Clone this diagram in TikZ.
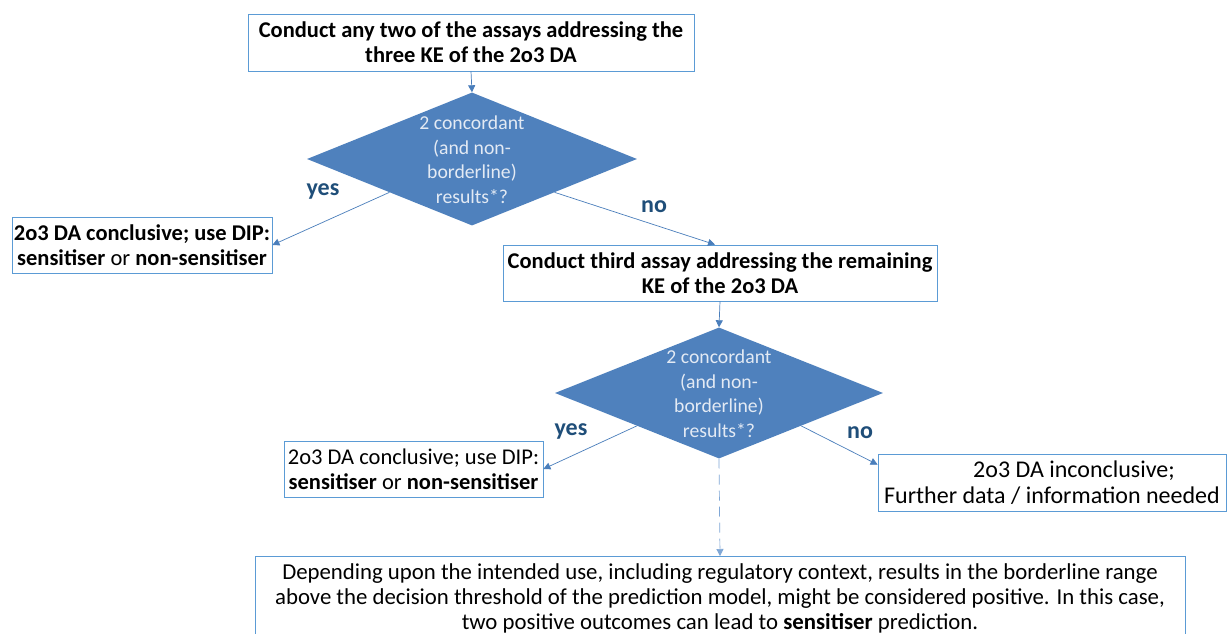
\documentclass[tikz,border=0pt]{standalone}
\usepackage{fontspec}
\setmainfont{Carlito}
\usetikzlibrary{shapes.geometric,arrows.meta}
\definecolor{boxline}{HTML}{5B9BD5}
\definecolor{decfill}{HTML}{4F81BD}
\definecolor{arrowc}{HTML}{4A7EBB}
\definecolor{dectext}{HTML}{E3EAF4}
\definecolor{lblc}{HTML}{1F4E79}
\definecolor{dashc}{HTML}{7FA7D6}
\tikzset{
  box/.style={draw=boxline, line width=0.8pt, fill=white, align=center, inner sep=0pt,
    font=\fontsize{22.5}{25}\selectfont},
  dec/.style={diamond, fill=decfill, draw=none, inner sep=0pt, text=dectext,
    font=\fontsize{19.7}{24.5}\selectfont},
  conn/.style={draw=arrowc, line width=0.7pt, -{Triangle[length=7pt,width=7pt]}},
  lbl/.style={text=lblc, font=\fontsize{24}{25}\selectfont\bfseries, inner sep=0pt},
}
\newcommand{\dtext}{\smash{\makebox[0pt]{\raisebox{-8pt}{\begin{tabular}{@{}c@{}}2 concordant\\(and non-\\borderline)\\results*?\end{tabular}}}}}
\begin{document}
\begin{tikzpicture}[x=1pt,y=-1pt]
\clip (0,0) rectangle (1227,634);
\fill[white] (0,0) rectangle (1227,634);
\node[box, minimum width=446pt, minimum height=57pt] (b1) at (471,42.5)
  {\bfseries Conduct any two of the assays addressing the\\\bfseries three KE of the 2o3 DA};
\node[dec, minimum width=330pt, minimum height=133pt] (d1) at (472,159) {\dtext};
\node[box, minimum width=260pt, minimum height=56pt] (b2) at (142,245)
  {\bfseries 2o3 DA conclusive; use DIP:\\\bfseries sensitiser \mdseries or \bfseries non-sensitiser};
\node[box, minimum width=434pt, minimum height=56pt] (b3) at (720,273)
  {\bfseries Conduct third assay addressing the remaining\\\bfseries KE of the 2o3 DA};
\node[dec, minimum width=328pt, minimum height=131pt] (d2) at (719,393) {\dtext};
\node[box, minimum width=259pt, minimum height=56pt] (b4) at (413.5,469)
  {2o3 DA conclusive; use DIP:\\\bfseries sensitiser \mdseries or \bfseries non-sensitiser};
\node[box, minimum width=348pt, minimum height=57pt, font=\fontsize{24}{26}\selectfont] (b5) at (1052,482.5)
  {\hspace*{44pt}2o3 DA inconclusive;\\Further data / information needed};
\node[box, minimum width=930pt, anchor=north, inner ysep=7pt, font=\fontsize{22.8}{25}\selectfont] (b6) at (720,556)
  {Depending upon the intended use, including regulatory context, results in the borderline range\\
   above the decision threshold of the prediction model, might be considered positive. In this case,\\
   two positive outcomes can lead to \textbf{sensitiser} prediction.\\[6pt]};
\draw[conn] (b1.south) -- (d1.north);
\draw[conn] (d1.south west) -- (b2.east);
\draw[conn] (d1.south east) -- ([xshift=-5pt]b3.north);
\draw[conn] (b3.south) -- (d2.north);
\draw[conn] (d2.south west) -- (b4.east);
\draw[conn] (d2.south east) -- ([yshift=-11pt]b5.north west);
\draw[conn, draw=dashc, dash pattern=on 10pt off 6pt] (d2.south) -- (b6.north);
\node[lbl] (y1) at (323,191) {yes};
\node[lbl] (n1) at (654,207) {no};
\node[lbl] (y2) at (571,431) {yes};
\node[lbl] (n2) at (860,433) {no};
\end{tikzpicture}
\end{document}
